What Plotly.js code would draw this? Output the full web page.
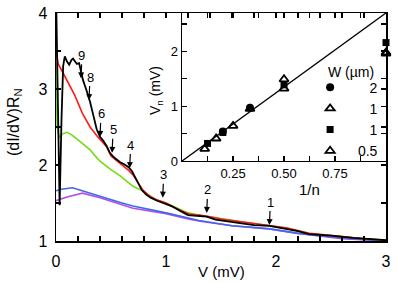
<!DOCTYPE html>
<html><head><meta charset="utf-8">
<script src="https://cdn.plot.ly/plotly-3.0.1.min.js"></script>
<style>html,body{margin:0;padding:0;background:#fff}</style>
</head><body><div id="chart" style="width:397px;height:282px"></div>
<script>
// ---- main panel: (dI/dV)R_N vs V (mV) ----
const blackV = [0.00,0.005,0.02,0.033,0.05,0.065,0.08,0.10,0.12,0.14,0.155,0.175,0.19,0.21,0.245,0.28,0.31,0.34,0.37,0.40,0.43,0.46,0.49,0.52,0.55,0.58,0.62,0.66,0.69,0.72,0.75,0.78,0.82,0.86,0.92,0.97,1.05,1.15,1.20,1.28,1.37,1.45,1.60,1.80,1.94,2.10,2.20,2.30,2.50,2.70,3.00];
const blackG = [4.30,3.80,2.20,1.47,2.60,3.30,3.43,3.36,3.32,3.38,3.40,3.35,3.33,3.34,3.12,2.97,2.83,2.65,2.47,2.37,2.32,2.25,2.16,2.11,2.07,2.04,2.01,1.97,1.92,1.84,1.76,1.67,1.61,1.57,1.53,1.50,1.46,1.38,1.34,1.33,1.32,1.28,1.25,1.21,1.20,1.16,1.13,1.09,1.07,1.04,1.01];
const redV = [0.00,0.02,0.05,0.10,0.17,0.24,0.31,0.38,0.46,0.50,0.55,0.61,0.66,0.70,0.75,0.79,0.85,0.92,1.00,1.06,1.15,1.22,1.30,1.40,1.50,1.70,1.90,2.10,2.30,2.50,2.80,3.00];
const redG = [3.50,3.33,3.25,3.12,2.92,2.68,2.50,2.37,2.24,2.12,2.06,2.00,1.93,1.87,1.76,1.67,1.59,1.54,1.50,1.45,1.39,1.35,1.34,1.32,1.29,1.25,1.21,1.17,1.10,1.07,1.03,1.01];
const greenV = [0.00,0.01,0.03,0.06,0.10,0.14,0.20,0.25,0.31,0.35,0.40,0.49,0.58,0.70,0.79,0.85,0.90,1.00,1.10,1.20,1.30,1.50,1.70,1.90,2.10,2.30,2.50,2.80,3.00];
const greenG = [3.35,2.50,2.36,2.41,2.43,2.40,2.33,2.27,2.20,2.13,2.05,1.95,1.86,1.72,1.66,1.60,1.55,1.50,1.44,1.37,1.34,1.29,1.25,1.21,1.17,1.10,1.07,1.03,1.01];
const blueV = [0.00,0.05,0.15,0.25,0.40,0.60,0.70,1.00,1.30,1.60,1.94,2.20,2.60,3.00];
const blueG = [1.66,1.68,1.70,1.66,1.59,1.50,1.46,1.37,1.27,1.20,1.16,1.10,1.04,1.00];
const magV = [0.00,0.10,0.24,0.40,0.70,1.00,1.20,1.31,1.60,1.94,2.20,2.60,3.00];
const magG = [1.53,1.58,1.63,1.57,1.43,1.36,1.29,1.26,1.20,1.16,1.10,1.03,1.00];

// arrows marking the peaks n on the black curve
const arrowN = ["9","8","6","5","4","3","2","1"];
const arrowV = [0.227,0.30,0.40,0.51,0.67,0.97,1.37,1.94];
const arrowG = [3.14,2.855,2.37,2.16,1.96,1.57,1.37,1.21];

// main axis ticks
const mainXTicks = [0,0.2,0.4,0.6,0.8,1,1.2,1.4,1.6,1.8,2,2.2,2.4,2.6,2.8,3];
const mainXText  = ["0","","","","","1","","","","","2","","","","","3"];
const mainYTicks = [1,1.5,2,2.5,3,3.5,4];
const mainYText  = ["1","","2","","3","","4"];

// ---- inset: V_n (mV) vs 1/n ----
const w2X  = [0.2,0.333];         const w2Y  = [0.54,0.97];
const w1tX = [0.111,0.167,0.25,0.5,1.0]; const w1tY = [0.22,0.41,0.64,1.49,1.98];
const w1sX = [0.125,0.2,0.5,1.0];  const w1sY = [0.32,0.52,1.39,2.16];
const w05X = [0.333,0.5,1.0];      const w05Y = [0.95,1.32,1.96];
const fitX = [0,1.0];              const fitY = [0,2.7];
const insetXTicks = [0,0.125,0.25,0.375,0.5,0.625,0.75,0.875,1];
const insetXText  = ["","","0.25","","0.50","","0.75","",""];
const insetYTicks = [0,0.5,1,1.5,2,2.5];
const insetYText  = ["0","","1","","2",""];
const legendNames = ["2","1","1","0.5"];

const FONT = "Liberation Sans, Arial, Helvetica, sans-serif";
const NB = "\u00a0";
const pad = (s,n) => NB.repeat(n) + s;
const line = (x,y,c,w) => ({x:x,y:y,xaxis:"x",yaxis:"y",mode:"lines",line:{color:c,width:w},showlegend:false,hoverinfo:"skip"});

const data = [
  line(magV,magG,"#b84ee8",1.6),
  line(blueV,blueG,"#3f68ea",1.6),
  line(greenV,greenG,"#72dd10",1.6),
  line(redV,redG,"#ff1a1a",1.6),
  line(blackV,blackG,"#000000",1.8),
  {x:fitX,y:fitY,xaxis:"x2",yaxis:"y2",mode:"lines",line:{color:"#000",width:1.4},showlegend:false,hoverinfo:"skip"},
  {x:w2X,y:w2Y,xaxis:"x2",yaxis:"y2",mode:"markers",name:pad(legendNames[0],5),marker:{symbol:"circle",size:8,color:"#000"},cliponaxis:false},
  {x:w1tX,y:w1tY,xaxis:"x2",yaxis:"y2",mode:"markers",name:pad(legendNames[1],5),marker:{symbol:"triangle-up-open",size:8,color:"#000",line:{width:1.8}},cliponaxis:false},
  {x:w1sX,y:w1sY,xaxis:"x2",yaxis:"y2",mode:"markers",name:pad(legendNames[2],5),marker:{symbol:"square",size:7,color:"#000"},cliponaxis:false},
  {x:w05X,y:w05Y,xaxis:"x2",yaxis:"y2",mode:"markers",name:pad(legendNames[3],2),marker:{symbol:"triangle-up-open",size:8,color:"#000",line:{width:1.8}},cliponaxis:false}
];

const axBase = {showline:true,linecolor:"#000",linewidth:1.5,mirror:"allticks",ticks:"inside",
  tickcolor:"#000",tickwidth:1.3,ticklen:5,showgrid:false,zeroline:false,fixedrange:true};

const annotations = arrowN.map((t,i)=>({x:arrowV[i],y:arrowG[i],xref:"x",yref:"y",text:t,
  showarrow:true,arrowhead:2,arrowsize:1,arrowwidth:1.2,arrowcolor:"#000",ax:1,ay:-23,standoff:0,
  font:{family:FONT,size:13,color:"#000"}}));
const txt = (x,y,t,size,angle) => ({xref:"paper",yref:"paper",x:x,y:y,xanchor:"center",yanchor:"middle",
  text:t,textangle:angle||0,showarrow:false,font:{family:FONT,size:size,color:"#000"}});
annotations.push(
  txt(0.5,-0.134,"V (mV)",15),
  txt(-0.124,0.522,"(dI/dV)R<sub>N</sub>",16,-90),
  txt(0.303,0.662,"V<sub>n</sub> (mV)",14,-90),
  txt(0.767,0.228,"1/n",15),
  txt(0.894,0.741,"W (µm)",14)
);

const layout = {
  width:397,height:282,margin:{l:56,r:11,t:13,b:41},
  paper_bgcolor:"#fff",plot_bgcolor:"rgba(0,0,0,0)",
  font:{family:FONT,color:"#000"},
  xaxis:Object.assign({},axBase,{domain:[0,1],range:[0,3],tickmode:"array",tickvals:mainXTicks,ticktext:mainXText,tickfont:{size:16},ticklabelstandoff:5,anchor:"y"}),
  yaxis:Object.assign({},axBase,{domain:[0,1],range:[1,4],tickmode:"array",tickvals:mainYTicks,ticktext:mainYText,tickfont:{size:16},ticklabelstandoff:4,anchor:"x"}),
  xaxis2:Object.assign({},axBase,{domain:[0.382,1],range:[0,1],tickmode:"array",tickvals:insetXTicks,ticktext:insetXText,tickfont:{size:13},anchor:"y2"}),
  yaxis2:Object.assign({},axBase,{domain:[0.351,1],range:[0,2.7],tickmode:"array",tickvals:insetYTicks,ticktext:insetYText,tickfont:{size:13},anchor:"x2"}),
  showlegend:true,
  legend:{x:0.77,y:0.743,xanchor:"left",yanchor:"top",bgcolor:"rgba(0,0,0,0)",font:{family:FONT,size:14,color:"#000"},tracegroupgap:0},
  annotations:annotations
};
Plotly.newPlot("chart",data,layout,{displayModeBar:false,staticPlot:true});
</script></body></html>
